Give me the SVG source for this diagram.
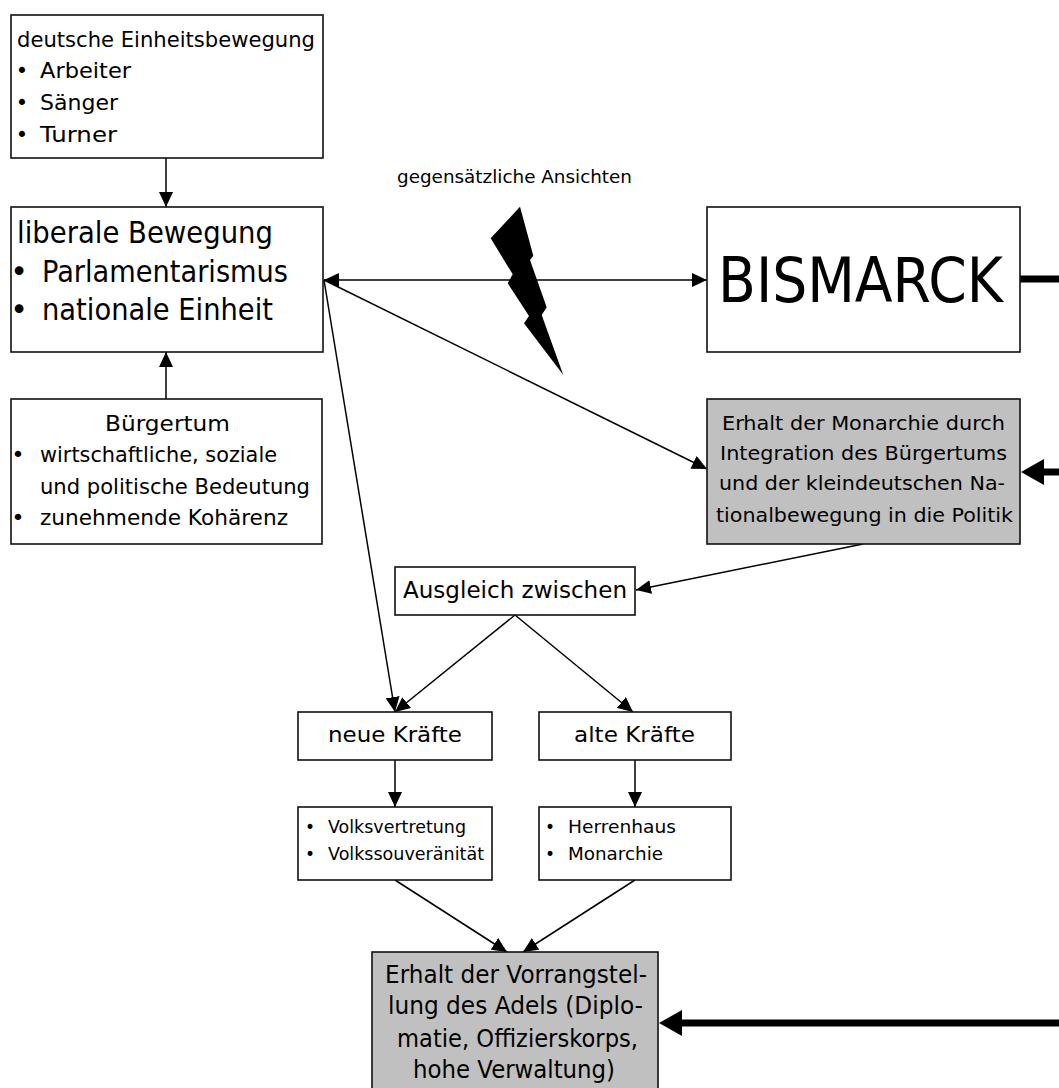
<svg xmlns="http://www.w3.org/2000/svg" width="1059" height="1088" viewBox="0 0 1059 1088">
<style>
.box{fill:#fff;stroke:#111;stroke-width:1.6}
.gray{fill:#c0c0c0;stroke:#111;stroke-width:1.6}
text{font-family:"DejaVu Sans","Liberation Sans",sans-serif;fill:#000}
.c{stroke:#000;stroke-width:1.5;fill:none}
.thick{stroke:#000;stroke-width:7;fill:none}
.bl{text-anchor:middle}
</style>
<defs>
<marker id="ah" markerUnits="userSpaceOnUse" markerWidth="16" markerHeight="14" refX="15" refY="7" orient="auto-start-reverse" viewBox="0 0 16 14">
<path d="M0,0 L15,7 L0,14 z" fill="#000"/>
</marker>
</defs>
<rect width="1059" height="1088" fill="#fff"/>

<g id="connectors">
<line class="c" x1="166" y1="158" x2="166" y2="207" marker-end="url(#ah)"/>
<line class="c" x1="166" y1="399" x2="166" y2="352" marker-end="url(#ah)"/>
<line class="c" x1="324" y1="280" x2="707" y2="280" marker-start="url(#ah)" marker-end="url(#ah)"/>
<line class="c" x1="324" y1="280" x2="707" y2="469" marker-end="url(#ah)"/>
<line class="c" x1="324" y1="280" x2="395" y2="712" marker-end="url(#ah)"/>
<line class="c" x1="863" y1="544" x2="636" y2="590" marker-end="url(#ah)"/>
<line class="c" x1="515" y1="615" x2="395" y2="712" marker-end="url(#ah)"/>
<line class="c" x1="515" y1="615" x2="633" y2="712" marker-end="url(#ah)"/>
<line class="c" x1="395" y1="760" x2="395" y2="807" marker-end="url(#ah)"/>
<line class="c" x1="635" y1="760" x2="635" y2="807" marker-end="url(#ah)"/>
<line class="c" x1="395" y1="880" x2="507" y2="952" marker-end="url(#ah)"/>
<line class="c" x1="635" y1="880" x2="523" y2="952" marker-end="url(#ah)"/>
<line class="thick" x1="1020" y1="279" x2="1059" y2="279"/>
<line class="thick" x1="1059" y1="472" x2="1042" y2="472"/>
<polygon points="1021,472 1044,459 1044,485" fill="#000"/>
<line class="thick" x1="1059" y1="1023" x2="680" y2="1023"/>
<polygon points="659,1023 682,1010 682,1036" fill="#000"/>
</g>

<g id="lightning">
<polygon points="520,206.7 533.3,255.7 530,260 546.7,307.3 541.7,315 563.3,375 524,323.3 529,316 507.7,283.3 512.7,274.3 490.7,238.3" fill="#000"/>
<text x="397" y="183" font-size="17" textLength="235" lengthAdjust="spacingAndGlyphs">gegensätzliche Ansichten</text>
</g>

<g id="n-einheitsbewegung">
<rect class="box" x="11" y="15" width="312" height="143"/>
<text x="17" y="47" font-size="21" textLength="298" lengthAdjust="spacingAndGlyphs">deutsche Einheitsbewegung</text>
<text class="bl" x="22" y="78" font-size="21">•</text>
<text x="40" y="78" font-size="21" textLength="91" lengthAdjust="spacingAndGlyphs">Arbeiter</text>
<text class="bl" x="22" y="110" font-size="21">•</text>
<text x="40" y="110" font-size="21" textLength="78" lengthAdjust="spacingAndGlyphs">Sänger</text>
<text class="bl" x="22" y="142" font-size="21">•</text>
<text x="40" y="142" font-size="21" textLength="77" lengthAdjust="spacingAndGlyphs">Turner</text>
</g>

<g id="n-liberal">
<rect class="box" x="11" y="207" width="312" height="145"/>
<text x="17" y="243" font-size="30" textLength="256" lengthAdjust="spacingAndGlyphs">liberale Bewegung</text>
<text class="bl" x="19" y="282" font-size="30">•</text>
<text x="42" y="282" font-size="30" textLength="246" lengthAdjust="spacingAndGlyphs">Parlamentarismus</text>
<text class="bl" x="19" y="320" font-size="30">•</text>
<text x="42" y="320" font-size="30" textLength="231" lengthAdjust="spacingAndGlyphs">nationale Einheit</text>
</g>

<g id="n-buergertum">
<rect class="box" x="11" y="399" width="311" height="145"/>
<text x="105" y="431" font-size="22" textLength="125" lengthAdjust="spacingAndGlyphs">Bürgertum</text>
<text class="bl" x="18" y="462" font-size="22">•</text>
<text x="40" y="462" font-size="22" textLength="237" lengthAdjust="spacingAndGlyphs">wirtschaftliche, soziale</text>
<text x="40" y="494" font-size="22" textLength="270" lengthAdjust="spacingAndGlyphs">und politische Bedeutung</text>
<text class="bl" x="18" y="525" font-size="22">•</text>
<text x="40" y="525" font-size="22" textLength="248" lengthAdjust="spacingAndGlyphs">zunehmende Kohärenz</text>
</g>

<g id="n-bismarck">
<rect class="box" x="707" y="207" width="313" height="145"/>
<text x="718" y="302" font-size="62" textLength="285" lengthAdjust="spacingAndGlyphs">BISMARCK</text>
</g>

<g id="n-monarchie">
<rect class="gray" x="707" y="399" width="313" height="145"/>
<text x="722" y="430" font-size="20" textLength="283" lengthAdjust="spacingAndGlyphs">Erhalt der Monarchie durch</text>
<text x="720" y="460" font-size="20" textLength="287" lengthAdjust="spacingAndGlyphs">Integration des Bürgertums</text>
<text x="719" y="490" font-size="20" textLength="286" lengthAdjust="spacingAndGlyphs">und der kleindeutschen Na-</text>
<text x="716" y="522" font-size="20" textLength="297" lengthAdjust="spacingAndGlyphs">tionalbewegung in die Politik</text>
</g>

<g id="n-ausgleich">
<rect class="box" x="395" y="567" width="240" height="48"/>
<text x="403" y="598" font-size="23" textLength="224" lengthAdjust="spacingAndGlyphs">Ausgleich zwischen</text>
</g>

<g id="n-neue">
<rect class="box" x="298" y="712" width="194" height="48"/>
<text x="328" y="742" font-size="22" textLength="134" lengthAdjust="spacingAndGlyphs">neue Kräfte</text>
</g>

<g id="n-alte">
<rect class="box" x="539" y="712" width="192" height="48"/>
<text x="574" y="742" font-size="22" textLength="121" lengthAdjust="spacingAndGlyphs">alte Kräfte</text>
</g>

<g id="n-volk">
<rect class="box" x="298" y="807" width="194" height="73"/>
<text class="bl" x="310" y="833" font-size="17">•</text>
<text x="328" y="833" font-size="17" textLength="138" lengthAdjust="spacingAndGlyphs">Volksvertretung</text>
<text class="bl" x="310" y="860" font-size="17">•</text>
<text x="328" y="860" font-size="17" textLength="156" lengthAdjust="spacingAndGlyphs">Volkssouveränität</text>
</g>

<g id="n-herren">
<rect class="box" x="539" y="807" width="192" height="73"/>
<text class="bl" x="550" y="833" font-size="17">•</text>
<text x="568" y="833" font-size="17" textLength="108" lengthAdjust="spacingAndGlyphs">Herrenhaus</text>
<text class="bl" x="550" y="860" font-size="17">•</text>
<text x="568" y="860" font-size="17" textLength="95" lengthAdjust="spacingAndGlyphs">Monarchie</text>
</g>

<g id="n-adel">
<rect class="gray" x="372" y="952" width="286" height="150"/>
<text x="385" y="983" font-size="24" textLength="262" lengthAdjust="spacingAndGlyphs">Erhalt der Vorrangstel-</text>
<text x="388" y="1014" font-size="24" textLength="255" lengthAdjust="spacingAndGlyphs">lung des Adels (Diplo-</text>
<text x="397" y="1047" font-size="24" textLength="241" lengthAdjust="spacingAndGlyphs">matie, Offizierskorps,</text>
<text x="413" y="1078" font-size="24" textLength="202" lengthAdjust="spacingAndGlyphs">hohe Verwaltung)</text>
</g>
</svg>
